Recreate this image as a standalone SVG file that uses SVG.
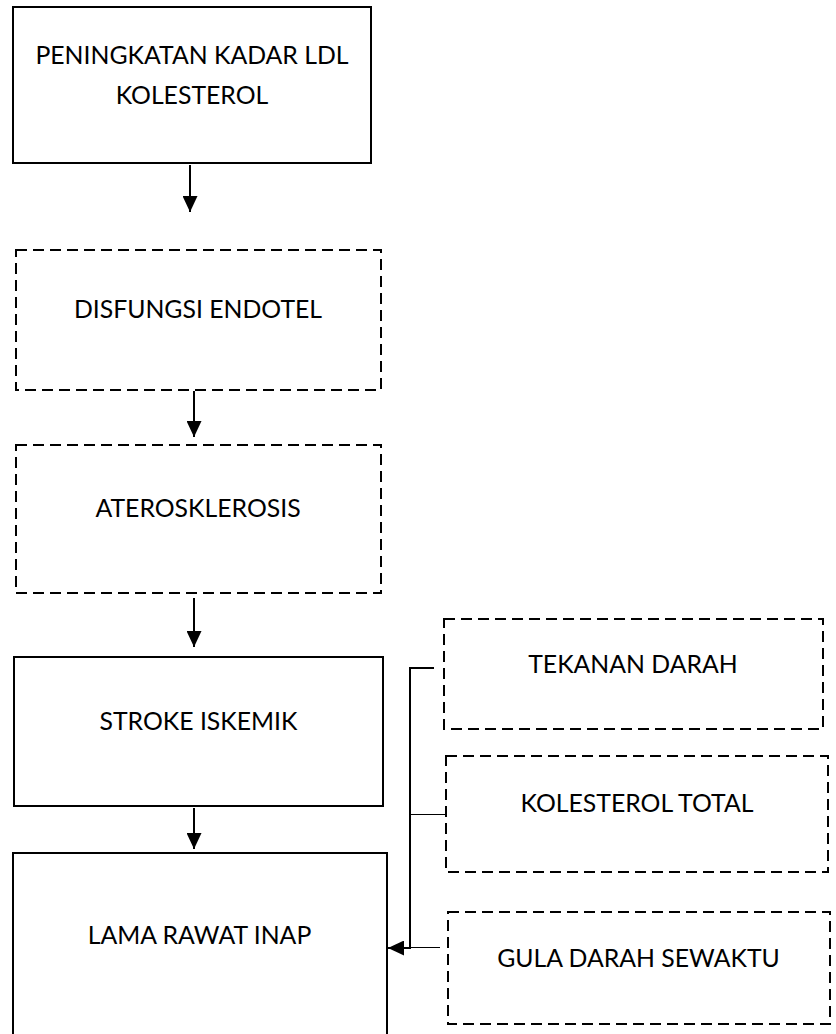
<svg xmlns="http://www.w3.org/2000/svg" width="836" height="1034" viewBox="0 0 836 1034">
<style>
.solid{fill:#fff;stroke:#000;stroke-width:2}
.dash{fill:#fff;stroke:#000;stroke-width:2;stroke-dasharray:11 6}
.lbl{font-family:Lato,"Open Sans","Liberation Sans",sans-serif;font-size:24.8px;fill:#000;text-anchor:middle}
.conn{fill:none;stroke:#000;stroke-width:2}
.thin{fill:none;stroke:#000;stroke-width:1}
</style>
<defs>
<marker id="ah" viewBox="0 0 16 15" refX="16" refY="7.5" markerWidth="16" markerHeight="15" markerUnits="userSpaceOnUse" orient="auto">
<path d="M0,0 L16,7.5 L0,15 z" fill="#000"/>
</marker>
</defs>
<rect width="836" height="1034" fill="#fff"/>
<g id="n1">
<rect class="solid" x="13" y="7" width="358" height="156"/>
<text class="lbl" x="192" y="64">PENINGKATAN KADAR LDL</text>
<text class="lbl" x="192" y="104">KOLESTEROL</text>
</g>
<g id="n2">
<rect class="dash" x="16" y="250" width="365" height="140"/>
<text class="lbl" x="198" y="318">DISFUNGSI ENDOTEL</text>
</g>
<g id="n3">
<rect class="dash" x="16" y="445" width="365" height="148"/>
<text class="lbl" x="198" y="517">ATEROSKLEROSIS</text>
</g>
<g id="n4">
<rect class="solid" x="14" y="657" width="369" height="149"/>
<text class="lbl" x="198.5" y="730">STROKE ISKEMIK</text>
</g>
<g id="n5">
<rect class="solid" x="13" y="853" width="374" height="200"/>
<text class="lbl" x="199.5" y="944">LAMA RAWAT INAP</text>
</g>
<g id="n6">
<rect class="dash" x="444" y="619" width="379" height="110"/>
<text class="lbl" x="633" y="673">TEKANAN DARAH</text>
</g>
<g id="n7">
<rect class="dash" x="446" y="756" width="382" height="116"/>
<text class="lbl" x="637" y="812">KOLESTEROL TOTAL</text>
</g>
<g id="n8">
<rect class="dash" x="448" y="912" width="382" height="112"/>
<text class="lbl" x="638.5" y="967">GULA DARAH SEWAKTU</text>
</g>
<g id="connectors">
<line class="conn" x1="190" y1="165" x2="190" y2="212" marker-end="url(#ah)"/>
<line class="conn" x1="194" y1="391" x2="194" y2="437" marker-end="url(#ah)"/>
<line class="conn" x1="194" y1="598" x2="194" y2="647" marker-end="url(#ah)"/>
<line class="conn" x1="194" y1="808" x2="194" y2="849" marker-end="url(#ah)"/>
<path class="conn" d="M434,668 H410 V948 H388" marker-end="url(#ah)"/>
<path class="thin" d="M410,814.5 H446"/>
<path class="thin" d="M410,947.5 H440"/>
</g>
</svg>
